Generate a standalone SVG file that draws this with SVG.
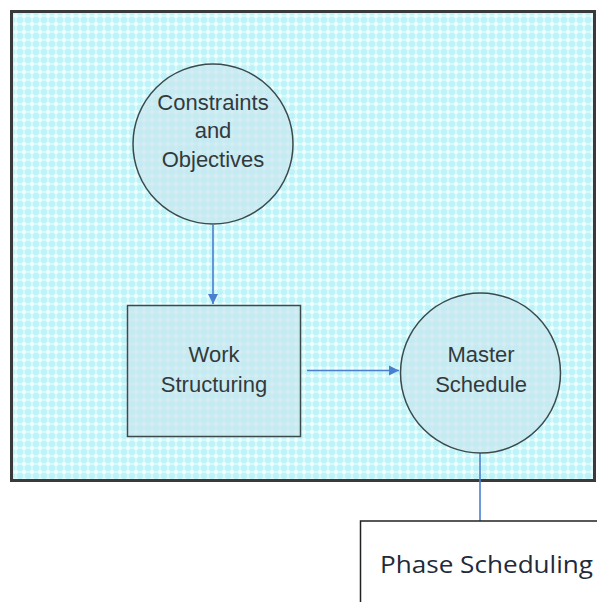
<svg xmlns="http://www.w3.org/2000/svg" width="597" height="602" viewBox="0 0 597 602">
  <defs>
    <pattern id="grid" x="12" y="12" width="8" height="8" patternUnits="userSpaceOnUse">
      <rect width="8" height="8" fill="#bff3f8"/>
      <rect x="0" y="3" width="8" height="2" fill="#d6f9fc"/>
      <rect x="3" y="0" width="2" height="8" fill="#d6f9fc"/>
      <rect x="2" y="2" width="4" height="4" fill="#e2fbfd"/>
      <rect x="3" y="3" width="2" height="2" fill="#f6ffff"/>
      <rect x="0" y="0" width="1" height="1" fill="#b2eff6"/>
    </pattern>
    <marker id="arrow" viewBox="0 0 10 10" refX="10" refY="5" markerWidth="10" markerHeight="11" markerUnits="userSpaceOnUse" orient="auto">
      <path d="M0,0 L10,5 L0,10 Z" fill="#4a7fcf"/>
    </marker>
    <style>
      .frame { fill: url(#grid); stroke: #3a3a3a; stroke-width: 3; }
      .node { fill: #c8e6ee; fill-opacity: 0.72; stroke: #3c4a4c; stroke-width: 1.5; }
      .label { font-family: "Liberation Sans", Arial, sans-serif; font-size: 22px; fill: #333a3c; text-anchor: middle; }
      .conn { stroke: #4a7fcf; stroke-width: 1.6; fill: none; }
      .box { fill: #ffffff; stroke: #222222; stroke-width: 1.5; }
      .boxlabel { font-family: "Open Sans", "Liberation Sans", sans-serif; font-size: 23px; fill: #1f2a3a; }
    </style>
  </defs>

  <rect width="597" height="602" fill="#ffffff"/>

  <!-- planning frame -->
  <rect class="frame" x="11.5" y="11.5" width="583" height="469"/>

  <!-- connectors -->
  <g id="connectors">
    <line class="conn" x1="213" y1="225" x2="213" y2="304" marker-end="url(#arrow)"/>
    <line class="conn" x1="307" y1="370.5" x2="399" y2="370.5" marker-end="url(#arrow)"/>
    <line class="conn" x1="480" y1="453" x2="480" y2="521"/>
  </g>

  <g id="constraints">
    <circle class="node" cx="213" cy="144" r="80"/>
    <text class="label" x="213" y="110">Constraints</text>
    <text class="label" x="213" y="138">and</text>
    <text class="label" x="213" y="167">Objectives</text>
  </g>

  <g id="work-structuring">
    <rect class="node" x="127.5" y="305.5" width="173" height="131"/>
    <text class="label" x="214" y="362">Work</text>
    <text class="label" x="214" y="392">Structuring</text>
  </g>

  <g id="master-schedule">
    <circle class="node" cx="480.5" cy="373" r="80"/>
    <text class="label" x="481" y="362">Master</text>
    <text class="label" x="481" y="392">Schedule</text>
  </g>

  <g id="phase-scheduling">
    <rect class="box" x="360.5" y="521" width="250" height="100"/>
    <text class="boxlabel" x="380" y="573" textLength="213" lengthAdjust="spacingAndGlyphs">Phase Scheduling</text>
  </g>
</svg>
